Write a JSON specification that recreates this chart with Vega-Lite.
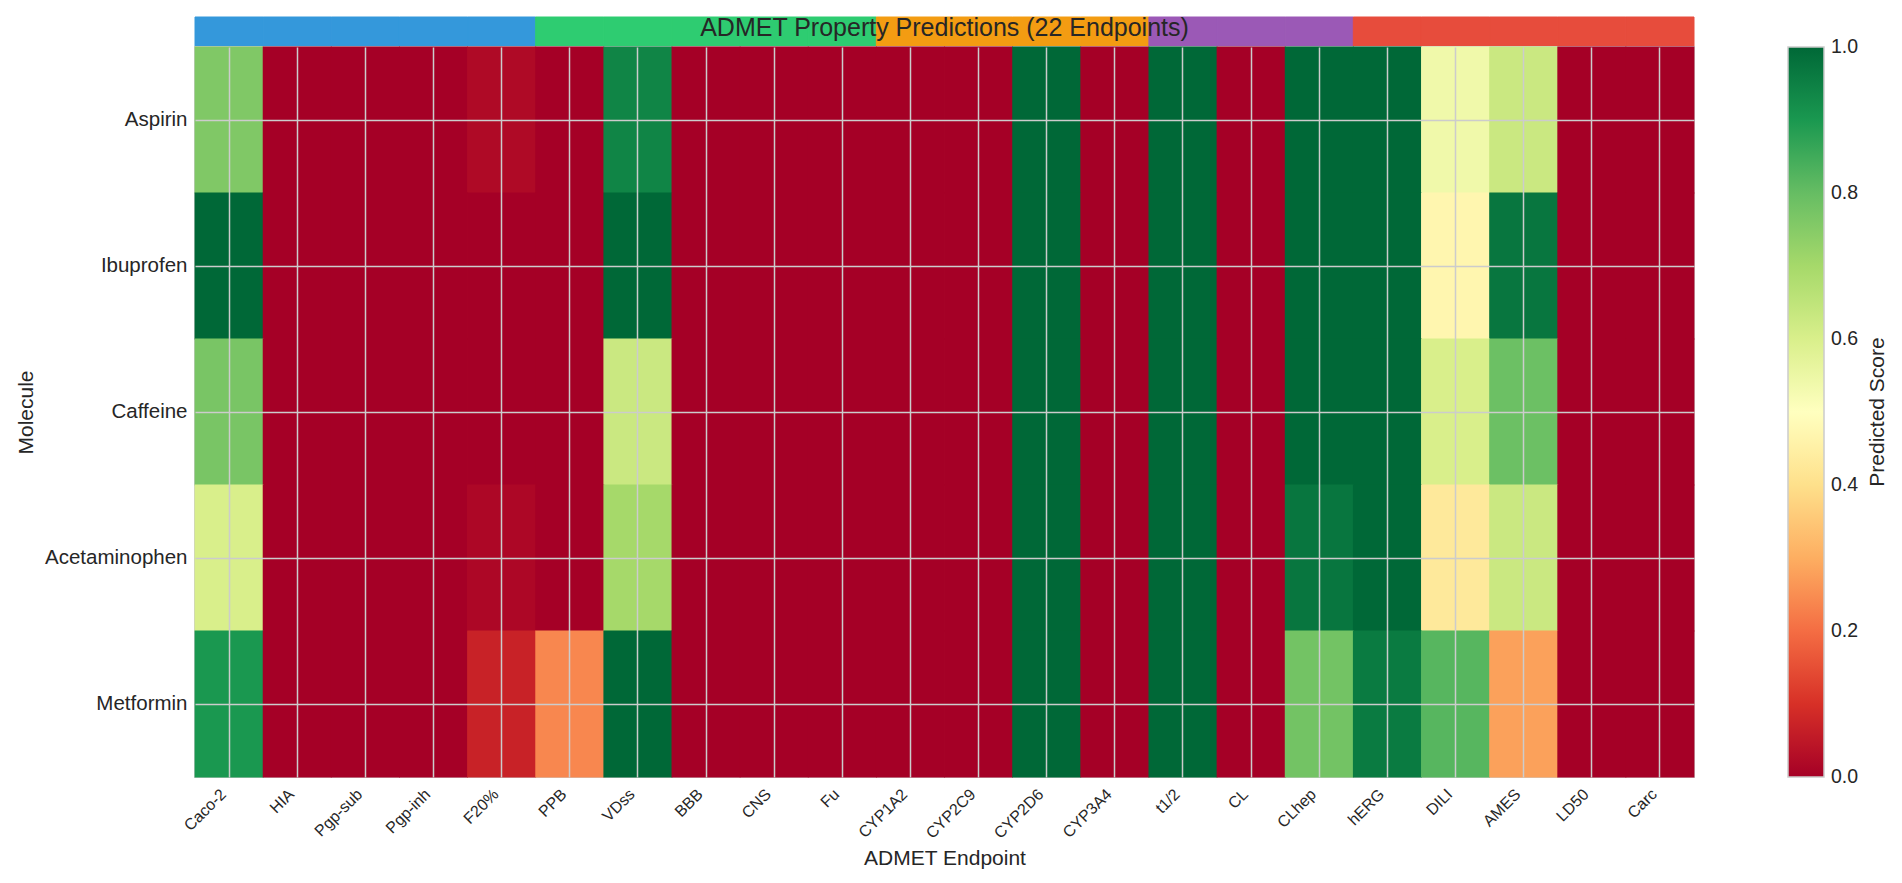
{
  "$schema": "https://vega.github.io/schema/vega-lite/v6.json",
  "background": "white",
  "padding": {"left": 14, "top": 16, "right": 5, "bottom": 5},
  "bounds": "flush",
  "spacing": 1,
  "config": {"font": "Liberation Sans", "view": {"stroke": null}},
  "datasets": {
    "groups": [
      {"endpoint": "Caco-2", "group": "Absorption"},
      {"endpoint": "HIA", "group": "Absorption"},
      {"endpoint": "Pgp-sub", "group": "Absorption"},
      {"endpoint": "Pgp-inh", "group": "Absorption"},
      {"endpoint": "F20%", "group": "Absorption"},
      {"endpoint": "PPB", "group": "Distribution"},
      {"endpoint": "VDss", "group": "Distribution"},
      {"endpoint": "BBB", "group": "Distribution"},
      {"endpoint": "CNS", "group": "Distribution"},
      {"endpoint": "Fu", "group": "Distribution"},
      {"endpoint": "CYP1A2", "group": "Metabolism"},
      {"endpoint": "CYP2C9", "group": "Metabolism"},
      {"endpoint": "CYP2D6", "group": "Metabolism"},
      {"endpoint": "CYP3A4", "group": "Metabolism"},
      {"endpoint": "t1/2", "group": "Excretion"},
      {"endpoint": "CL", "group": "Excretion"},
      {"endpoint": "CLhep", "group": "Excretion"},
      {"endpoint": "hERG", "group": "Toxicity"},
      {"endpoint": "DILI", "group": "Toxicity"},
      {"endpoint": "AMES", "group": "Toxicity"},
      {"endpoint": "LD50", "group": "Toxicity"},
      {"endpoint": "Carc", "group": "Toxicity"}
    ],
    "scores": [
      {"molecule": "Aspirin", "endpoint": "Caco-2", "score": 0.76},
      {"molecule": "Aspirin", "endpoint": "HIA", "score": 0},
      {"molecule": "Aspirin", "endpoint": "Pgp-sub", "score": 0},
      {"molecule": "Aspirin", "endpoint": "Pgp-inh", "score": 0},
      {"molecule": "Aspirin", "endpoint": "F20%", "score": 0.02},
      {"molecule": "Aspirin", "endpoint": "PPB", "score": 0},
      {"molecule": "Aspirin", "endpoint": "VDss", "score": 0.94},
      {"molecule": "Aspirin", "endpoint": "BBB", "score": 0},
      {"molecule": "Aspirin", "endpoint": "CNS", "score": 0},
      {"molecule": "Aspirin", "endpoint": "Fu", "score": 0},
      {"molecule": "Aspirin", "endpoint": "CYP1A2", "score": 0},
      {"molecule": "Aspirin", "endpoint": "CYP2C9", "score": 0},
      {"molecule": "Aspirin", "endpoint": "CYP2D6", "score": 1},
      {"molecule": "Aspirin", "endpoint": "CYP3A4", "score": 0},
      {"molecule": "Aspirin", "endpoint": "t1/2", "score": 1},
      {"molecule": "Aspirin", "endpoint": "CL", "score": 0},
      {"molecule": "Aspirin", "endpoint": "CLhep", "score": 1},
      {"molecule": "Aspirin", "endpoint": "hERG", "score": 1},
      {"molecule": "Aspirin", "endpoint": "DILI", "score": 0.54},
      {"molecule": "Aspirin", "endpoint": "AMES", "score": 0.63},
      {"molecule": "Aspirin", "endpoint": "LD50", "score": 0},
      {"molecule": "Aspirin", "endpoint": "Carc", "score": 0},
      {"molecule": "Ibuprofen", "endpoint": "Caco-2", "score": 1},
      {"molecule": "Ibuprofen", "endpoint": "HIA", "score": 0},
      {"molecule": "Ibuprofen", "endpoint": "Pgp-sub", "score": 0},
      {"molecule": "Ibuprofen", "endpoint": "Pgp-inh", "score": 0},
      {"molecule": "Ibuprofen", "endpoint": "F20%", "score": 0},
      {"molecule": "Ibuprofen", "endpoint": "PPB", "score": 0},
      {"molecule": "Ibuprofen", "endpoint": "VDss", "score": 1},
      {"molecule": "Ibuprofen", "endpoint": "BBB", "score": 0},
      {"molecule": "Ibuprofen", "endpoint": "CNS", "score": 0},
      {"molecule": "Ibuprofen", "endpoint": "Fu", "score": 0},
      {"molecule": "Ibuprofen", "endpoint": "CYP1A2", "score": 0},
      {"molecule": "Ibuprofen", "endpoint": "CYP2C9", "score": 0},
      {"molecule": "Ibuprofen", "endpoint": "CYP2D6", "score": 1},
      {"molecule": "Ibuprofen", "endpoint": "CYP3A4", "score": 0},
      {"molecule": "Ibuprofen", "endpoint": "t1/2", "score": 1},
      {"molecule": "Ibuprofen", "endpoint": "CL", "score": 0},
      {"molecule": "Ibuprofen", "endpoint": "CLhep", "score": 1},
      {"molecule": "Ibuprofen", "endpoint": "hERG", "score": 1},
      {"molecule": "Ibuprofen", "endpoint": "DILI", "score": 0.47},
      {"molecule": "Ibuprofen", "endpoint": "AMES", "score": 0.97},
      {"molecule": "Ibuprofen", "endpoint": "LD50", "score": 0},
      {"molecule": "Ibuprofen", "endpoint": "Carc", "score": 0},
      {"molecule": "Caffeine", "endpoint": "Caco-2", "score": 0.77},
      {"molecule": "Caffeine", "endpoint": "HIA", "score": 0},
      {"molecule": "Caffeine", "endpoint": "Pgp-sub", "score": 0},
      {"molecule": "Caffeine", "endpoint": "Pgp-inh", "score": 0},
      {"molecule": "Caffeine", "endpoint": "F20%", "score": 0},
      {"molecule": "Caffeine", "endpoint": "PPB", "score": 0},
      {"molecule": "Caffeine", "endpoint": "VDss", "score": 0.63},
      {"molecule": "Caffeine", "endpoint": "BBB", "score": 0},
      {"molecule": "Caffeine", "endpoint": "CNS", "score": 0},
      {"molecule": "Caffeine", "endpoint": "Fu", "score": 0},
      {"molecule": "Caffeine", "endpoint": "CYP1A2", "score": 0},
      {"molecule": "Caffeine", "endpoint": "CYP2C9", "score": 0},
      {"molecule": "Caffeine", "endpoint": "CYP2D6", "score": 1},
      {"molecule": "Caffeine", "endpoint": "CYP3A4", "score": 0},
      {"molecule": "Caffeine", "endpoint": "t1/2", "score": 1},
      {"molecule": "Caffeine", "endpoint": "CL", "score": 0},
      {"molecule": "Caffeine", "endpoint": "CLhep", "score": 1},
      {"molecule": "Caffeine", "endpoint": "hERG", "score": 1},
      {"molecule": "Caffeine", "endpoint": "DILI", "score": 0.6},
      {"molecule": "Caffeine", "endpoint": "AMES", "score": 0.79},
      {"molecule": "Caffeine", "endpoint": "LD50", "score": 0},
      {"molecule": "Caffeine", "endpoint": "Carc", "score": 0},
      {"molecule": "Acetaminophen", "endpoint": "Caco-2", "score": 0.6},
      {"molecule": "Acetaminophen", "endpoint": "HIA", "score": 0},
      {"molecule": "Acetaminophen", "endpoint": "Pgp-sub", "score": 0},
      {"molecule": "Acetaminophen", "endpoint": "Pgp-inh", "score": 0},
      {"molecule": "Acetaminophen", "endpoint": "F20%", "score": 0.015},
      {"molecule": "Acetaminophen", "endpoint": "PPB", "score": 0},
      {"molecule": "Acetaminophen", "endpoint": "VDss", "score": 0.7},
      {"molecule": "Acetaminophen", "endpoint": "BBB", "score": 0},
      {"molecule": "Acetaminophen", "endpoint": "CNS", "score": 0},
      {"molecule": "Acetaminophen", "endpoint": "Fu", "score": 0},
      {"molecule": "Acetaminophen", "endpoint": "CYP1A2", "score": 0},
      {"molecule": "Acetaminophen", "endpoint": "CYP2C9", "score": 0},
      {"molecule": "Acetaminophen", "endpoint": "CYP2D6", "score": 1},
      {"molecule": "Acetaminophen", "endpoint": "CYP3A4", "score": 0},
      {"molecule": "Acetaminophen", "endpoint": "t1/2", "score": 1},
      {"molecule": "Acetaminophen", "endpoint": "CL", "score": 0},
      {"molecule": "Acetaminophen", "endpoint": "CLhep", "score": 0.97},
      {"molecule": "Acetaminophen", "endpoint": "hERG", "score": 1},
      {"molecule": "Acetaminophen", "endpoint": "DILI", "score": 0.43},
      {"molecule": "Acetaminophen", "endpoint": "AMES", "score": 0.63},
      {"molecule": "Acetaminophen", "endpoint": "LD50", "score": 0},
      {"molecule": "Acetaminophen", "endpoint": "Carc", "score": 0},
      {"molecule": "Metformin", "endpoint": "Caco-2", "score": 0.9},
      {"molecule": "Metformin", "endpoint": "HIA", "score": 0},
      {"molecule": "Metformin", "endpoint": "Pgp-sub", "score": 0},
      {"molecule": "Metformin", "endpoint": "Pgp-inh", "score": 0},
      {"molecule": "Metformin", "endpoint": "F20%", "score": 0.07},
      {"molecule": "Metformin", "endpoint": "PPB", "score": 0.24},
      {"molecule": "Metformin", "endpoint": "VDss", "score": 1},
      {"molecule": "Metformin", "endpoint": "BBB", "score": 0},
      {"molecule": "Metformin", "endpoint": "CNS", "score": 0},
      {"molecule": "Metformin", "endpoint": "Fu", "score": 0},
      {"molecule": "Metformin", "endpoint": "CYP1A2", "score": 0},
      {"molecule": "Metformin", "endpoint": "CYP2C9", "score": 0},
      {"molecule": "Metformin", "endpoint": "CYP2D6", "score": 1},
      {"molecule": "Metformin", "endpoint": "CYP3A4", "score": 0},
      {"molecule": "Metformin", "endpoint": "t1/2", "score": 1},
      {"molecule": "Metformin", "endpoint": "CL", "score": 0},
      {"molecule": "Metformin", "endpoint": "CLhep", "score": 0.78},
      {"molecule": "Metformin", "endpoint": "hERG", "score": 0.96},
      {"molecule": "Metformin", "endpoint": "DILI", "score": 0.82},
      {"molecule": "Metformin", "endpoint": "AMES", "score": 0.28},
      {"molecule": "Metformin", "endpoint": "LD50", "score": 0},
      {"molecule": "Metformin", "endpoint": "Carc", "score": 0}
    ]
  },
  "vconcat": [
    {
      "width": 1499,
      "height": 29,
      "layer": [
        {
          "data": {"name": "groups"},
          "mark": {"type": "rect", "strokeWidth": 1},
          "encoding": {
            "x": {"field": "endpoint", "type": "nominal", "sort": null, "axis": null, "scale": {"paddingInner": 0, "paddingOuter": 0}},
            "fill": {
              "field": "group",
              "type": "nominal",
              "scale": {
                "domain": ["Absorption", "Distribution", "Metabolism", "Excretion", "Toxicity"],
                "range": ["#3498db", "#2ecc71", "#f39c12", "#9b59b6", "#e74c3c"]
              },
              "legend": null
            },
            "stroke": {
              "field": "group",
              "type": "nominal",
              "scale": {
                "domain": ["Absorption", "Distribution", "Metabolism", "Excretion", "Toxicity"],
                "range": ["#3498db", "#2ecc71", "#f39c12", "#9b59b6", "#e74c3c"]
              },
              "legend": null
            }
          }
        },
        {
          "data": {"values": [{"title": "ADMET Property Predictions (22 Endpoints)"}]},
          "mark": {"type": "text", "fontSize": 25, "color": "#262626", "baseline": "alphabetic", "align": "center", "dy": 4.5},
          "encoding": {
            "text": {"field": "title", "type": "nominal"}
          }
        }
      ]
    },
    {
      "width": 1499,
      "height": 730,
      "data": {"name": "scores"},
      "view": {"stroke": "#cccccc", "strokeWidth": 2},
      "mark": {"type": "rect", "width": {"band": 1.012}, "height": {"band": 1.008}},
      "encoding": {
        "x": {
          "field": "endpoint",
          "type": "nominal",
          "sort": ["Caco-2", "HIA", "Pgp-sub", "Pgp-inh", "F20%", "PPB", "VDss", "BBB", "CNS", "Fu", "CYP1A2", "CYP2C9", "CYP2D6", "CYP3A4", "t1/2", "CL", "CLhep", "hERG", "DILI", "AMES", "LD50", "Carc"],
          "scale": {"paddingInner": 0, "paddingOuter": 0},
          "axis": {
            "title": "ADMET Endpoint",
            "titleFontSize": 21,
            "titleFontWeight": "normal",
            "titleColor": "#262626",
            "titlePadding": 6,
            "labelFontSize": 16,
            "labelColor": "#262626",
            "labelAngle": -45,
            "labelAlign": "right",
            "labelBaseline": "bottom",
            "labelPadding": 20,
            "ticks": false,
            "domain": false,
            "grid": true,
            "gridColor": "#cccccc",
            "gridWidth": 1.5,
            "bandPosition": 0.5,
            "zindex": 1
          }
        },
        "y": {
          "field": "molecule",
          "type": "nominal",
          "sort": ["Aspirin", "Ibuprofen", "Caffeine", "Acetaminophen", "Metformin"],
          "scale": {"paddingInner": 0, "paddingOuter": 0},
          "axis": {
            "title": "Molecule",
            "titleFontSize": 21,
            "titleFontWeight": "normal",
            "titleColor": "#262626",
            "titlePadding": 8,
            "labelFontSize": 20.5,
            "labelColor": "#262626",
            "labelPadding": 8,
            "ticks": false,
            "domain": false,
            "grid": true,
            "gridColor": "#cccccc",
            "gridWidth": 1.5,
            "bandPosition": 0.5,
            "zindex": 1
          }
        },
        "color": {
          "field": "score",
          "type": "quantitative",
          "scale": {
            "domain": [0, 0.1, 0.2, 0.3, 0.4, 0.5, 0.6, 0.7, 0.8, 0.9, 1.0],
            "range": ["#a50026", "#d73027", "#f46d43", "#fdae61", "#fee08b", "#ffffbf", "#d9ef8b", "#a6d96a", "#66bd63", "#1a9850", "#006837"],
            "interpolate": "rgb"
          },
          "legend": {
            "type": "gradient",
            "orient": "none",
            "legendX": 1593,
            "legendY": 0,
            "direction": "vertical",
            "gradientLength": 730,
            "gradientThickness": 36,
            "gradientStrokeColor": "#cccccc",
            "gradientStrokeWidth": 1.5,
            "values": [0, 0.2, 0.4, 0.6, 0.8, 1.0],
            "format": ".1f",
            "labelFontSize": 19.5,
            "labelColor": "#262626",
            "labelOffset": 7,
            "labelOverlap": false,
            "title": "Predicted Score",
            "titleOrient": "right",
            "titleFontSize": 21,
            "titleFontWeight": "normal",
            "titleColor": "#262626",
            "titleAnchor": "middle",
            "titlePadding": 9,
            "encode": {
              "labels": {"update": {"baseline": {"value": "middle"}}},
              "title": {"update": {"angle": {"value": -90}, "baseline": {"value": "top"}}}
            }
          }
        }
      }
    }
  ],
  "resolve": {"scale": {"x": "independent", "color": "independent"}}
}
